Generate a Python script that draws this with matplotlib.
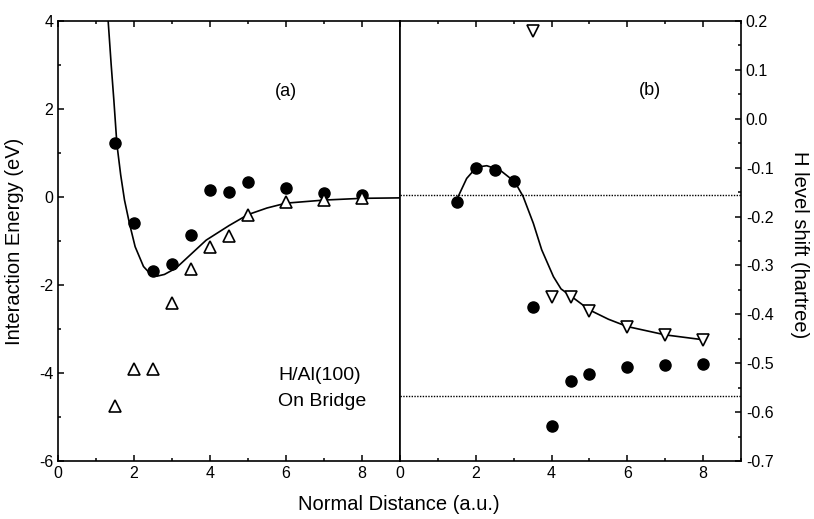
import numpy as np
import matplotlib
matplotlib.use('Agg')
import matplotlib.pyplot as plt
from matplotlib.ticker import MultipleLocator

plt.rcParams['font.family'] = ['Liberation Sans', 'DejaVu Sans']
plt.rcParams['axes.unicode_minus'] = False

# panel (a): interaction energy (eV)
dist = [1.5, 2.0, 2.5, 3.0, 3.5, 4.0, 4.5, 5.0, 6.0, 7.0, 8.0]
energy_dots = [1.23, -0.60, -1.68, -1.52, -0.86, 0.15, 0.11, 0.33, 0.21, 0.10, 0.05]
energy_tri = [-4.74, -3.92, -3.92, -2.40, -1.64, -1.13, -0.89, -0.41, -0.12, -0.07, -0.03]
fit_a_x = [1.32, 1.40, 1.47, 1.55, 1.65, 1.75, 1.88, 2.03, 2.25, 2.40, 2.60, 2.80,
           3.10, 3.50, 3.90, 4.50, 5.00, 5.50, 6.00, 7.00, 8.00, 9.00]
fit_a_y = [4.0, 3.0, 2.2, 1.2, 0.5, -0.07, -0.6, -1.13, -1.58, -1.72, -1.80, -1.76,
           -1.62, -1.30, -0.98, -0.65, -0.40, -0.25, -0.14, -0.07, -0.03, -0.02]

# panel (b): H level shift (hartree)
shift_dots = [-0.170, -0.101, -0.105, -0.127, -0.386, -0.628, -0.536, -0.522, -0.508, -0.503, -0.501]
tri_x = [3.5, 4.0, 4.5, 5.0, 6.0, 7.0, 8.0]
shift_tri = [0.180, -0.364, -0.364, -0.394, -0.425, -0.442, -0.452]
fit_b_x = [1.53, 1.76, 2.02, 2.29, 2.64, 3.03, 3.25, 3.52, 3.74, 4.05, 4.25, 4.50,
           5.00, 5.50, 6.00, 7.00, 8.00]
fit_b_y = [-0.160, -0.122, -0.099, -0.096, -0.105, -0.129, -0.159, -0.214, -0.268,
           -0.323, -0.348, -0.362, -0.391, -0.410, -0.425, -0.442, -0.452]
ref_levels = [-0.155, -0.568]
shift_ticks = [-0.7, -0.6, -0.5, -0.4, -0.3, -0.2, -0.1, 0.0, 0.1, 0.2]
shift_labels = ['-0.7', '-0.6', '-0.5', '-0.4', '-0.3', '-0.2', '-0.1', '0.0', '0.1', '0.2']

fig = plt.figure(figsize=(8.14, 5.19), dpi=100)
ax1 = fig.add_axes([58/814, 58/519, 342/814, 440/519])
ax2 = fig.add_axes([400/814, 58/519, 341/814, 440/519])

# left panel
ax1.plot(fit_a_x, fit_a_y, color='black', lw=1.2)
ax1.plot(dist, energy_dots, 'o', color='black', ms=8)
ax1.plot(dist, energy_tri, '^', mfc='white', mec='black', mew=1.2, ms=8)
ax1.set_xlim(0, 9)
ax1.set_ylim(-6, 4)
ax1.set_xticks([0, 2, 4, 6, 8])
ax1.xaxis.set_minor_locator(MultipleLocator(1))
ax1.yaxis.set_major_locator(MultipleLocator(2))
ax1.yaxis.set_minor_locator(MultipleLocator(1))
ax1.tick_params(which='both', direction='in', top=True, right=False, labelsize=11.5, width=1.1)
ax1.tick_params(which='major', length=4.5)
ax1.tick_params(which='minor', length=2.5)
ax1.text(6.0, 2.4, '(a)', fontsize=13, ha='center', va='center')
ax1.text(5.8, -4.05, 'H/Al(100)', fontsize=14, ha='left', va='center')
ax1.text(5.8, -4.65, 'On Bridge', fontsize=14, ha='left', va='center')

# right panel
for lvl in ref_levels:
    ax2.axhline(lvl, color='black', lw=1.0, ls=(0, (1, 1)))
ax2.plot(fit_b_x, fit_b_y, color='black', lw=1.2)
ax2.plot(dist, shift_dots, 'o', color='black', ms=8)
ax2.plot(tri_x, shift_tri, 'v', mfc='white', mec='black', mew=1.2, ms=8)
ax2.set_xlim(0, 9)
ax2.set_ylim(-0.7, 0.2)
ax2.set_xticks([0, 2, 4, 6, 8])
ax2.xaxis.set_minor_locator(MultipleLocator(1))
ax2.set_yticks(shift_ticks)
ax2.set_yticklabels(shift_labels)
ax2.yaxis.set_minor_locator(MultipleLocator(0.05))
ax2.yaxis.tick_right()
ax2.tick_params(which='both', direction='in', top=True, left=False, right=True, labelsize=11.5, width=1.1)
ax2.tick_params(which='major', length=4.5)
ax2.tick_params(which='minor', length=2.5)
ax2.text(6.6, 0.057, '(b)', fontsize=13, ha='center', va='center')

for ax in (ax1, ax2):
    for s in ax.spines.values():
        s.set_linewidth(1.2)

fig.text(15/814, 1 - 241/519, 'Interaction Energy (eV)', fontsize=14.5, rotation=90,
         ha='center', va='center')
fig.text(800/814, 1 - 245/519, 'H level shift (hartree)', fontsize=14.5, rotation=-90,
         ha='center', va='center')
fig.text(399/814, 1 - 505/519, 'Normal Distance (a.u.)', fontsize=14.5, ha='center', va='center')

fig.savefig('out.png', dpi=100)
